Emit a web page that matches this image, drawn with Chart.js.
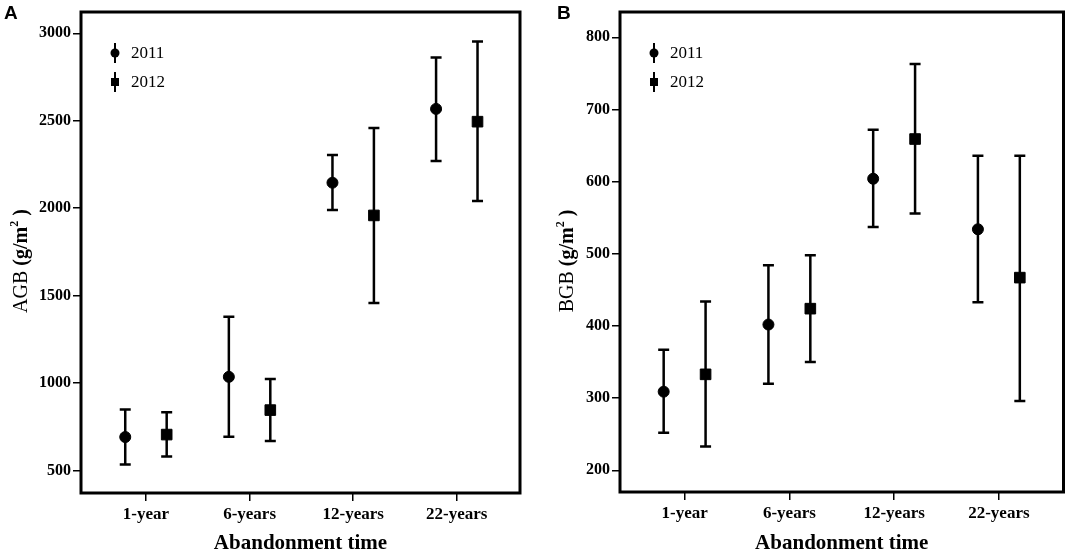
<!DOCTYPE html>
<html>
<head>
<meta charset="utf-8">
<script src="https://cdn.jsdelivr.net/npm/chart.js@4"></script>
<style>
  html, body { margin: 0; padding: 0; background: #fff; }
  #wrap { position: relative; width: 1072px; height: 560px; }
  .panel { position: absolute; top: 0; width: 536px; height: 560px; }
</style>
</head>
<body>
<div id="wrap">
  <div class="panel" style="left:0"><canvas id="chartA"></canvas></div>
  <div class="panel" style="left:536px"><canvas id="chartB"></canvas></div>
</div>
<script>
// categories on the x axis
const categories = ['1-year', '6-years', '12-years', '22-years'];
const years = ['2011', '2012'];

// panel A: AGB (g/m2), mean and error bar ends
const agb2011 = [692, 1036, 2146, 2568];
const agb2011Low = [535, 694, 1990, 2270];
const agb2011High = [850, 1380, 2305, 2862];
const agb2012 = [706, 846, 1959, 2495];
const agb2012Low = [581, 669, 1458, 2042];
const agb2012High = [834, 1024, 2459, 2954];
const agbTicks = [500, 1000, 1500, 2000, 2500, 3000];

// panel B: BGB (g/m2)
const bgb2011 = [309, 402, 604, 534];
const bgb2011Low = [252, 320, 537, 433];
const bgb2011High = [367, 484, 672, 636];
const bgb2012 = [333, 424, 659, 467];
const bgb2012Low = [233, 350, 556, 296];
const bgb2012High = [434, 498, 763, 636];
const bgbTicks = [200, 300, 400, 500, 600, 700, 800];

const serif = 'Liberation Serif';
const shift = 0.2; // half distance between the two years inside a group

function points(values, side) {
  return values.map((v, i) => ({ x: i + 1 + side * shift, y: v }));
}

// whiskers with caps, drawn under the markers
const errorBars = {
  id: 'errorBars',
  beforeDatasetsDraw(chart) {
    const ctx = chart.ctx;
    const y = chart.scales.y;
    chart.data.datasets.forEach((ds, i) => {
      chart.getDatasetMeta(i).data.forEach((pt, j) => {
        const top = y.getPixelForValue(ds.highs[j]);
        const bot = y.getPixelForValue(ds.lows[j]);
        ctx.save();
        ctx.strokeStyle = '#000';
        ctx.lineWidth = 2.5;
        ctx.beginPath();
        ctx.moveTo(pt.x, top); ctx.lineTo(pt.x, bot);
        ctx.moveTo(pt.x - 5.5, top); ctx.lineTo(pt.x + 5.5, top);
        ctx.moveTo(pt.x - 5.5, bot); ctx.lineTo(pt.x + 5.5, bot);
        ctx.stroke();
        ctx.restore();
      });
    });
  }
};

// frame, panel letter, y title and the little legend
const decorations = {
  id: 'decorations',
  afterDraw(chart) {
    const ctx = chart.ctx;
    const a = chart.chartArea;
    const o = chart.options.plugins.decorations;
    ctx.save();
    ctx.strokeStyle = '#000';
    ctx.lineWidth = 3;
    ctx.strokeRect(a.left, a.top, a.right - a.left, a.bottom - a.top);

    // panel letter
    ctx.fillStyle = '#000';
    ctx.font = 'bold 19px "Liberation Sans"';
    ctx.textBaseline = 'alphabetic';
    ctx.textAlign = 'left';
    ctx.fillText(o.letter, o.letterX, 19);

    // y axis title: plain name, bold unit
    ctx.save();
    ctx.translate(o.titleX, 261);
    ctx.rotate(-Math.PI / 2);
    ctx.textBaseline = 'middle';
    const parts = [
      { t: o.name + ' ', f: '20px ' + serif, dy: 0 },
      { t: '(g/m', f: 'bold 20px ' + serif, dy: 0 },
      { t: '2', f: 'bold 12px ' + serif, dy: -7 },
      { t: ' )', f: 'bold 20px ' + serif, dy: 0 }
    ];
    let total = 0;
    parts.forEach(p => { ctx.font = p.f; p.w = ctx.measureText(p.t).width; total += p.w; });
    let x = -total / 2;
    parts.forEach(p => { ctx.font = p.f; ctx.fillText(p.t, x, p.dy); x += p.w; });
    ctx.restore();

    // legend
    const lx = a.left + 34;
    chart.data.datasets.forEach((ds, i) => {
      const ly = a.top + 41 + i * 29;
      ctx.lineWidth = 2;
      ctx.beginPath();
      ctx.moveTo(lx, ly - 10); ctx.lineTo(lx, ly + 10);
      ctx.stroke();
      ctx.beginPath();
      if (ds.pointStyle === 'circle') {
        ctx.arc(lx, ly, 4.5, 0, Math.PI * 2);
      } else {
        ctx.rect(lx - 4, ly - 4, 8, 8);
      }
      ctx.fill();
      ctx.font = '17px ' + serif;
      ctx.textBaseline = 'middle';
      ctx.fillText(ds.label, lx + 16, ly + 1);
    });
    ctx.restore();
  }
};

function makeChart(id, p) {
  new Chart(document.getElementById(id), {
    type: 'scatter',
    data: {
      datasets: [
        {
          label: years[0],
          data: points(p.mean1, -1),
          lows: p.low1, highs: p.high1,
          pointStyle: 'circle', pointRadius: 5.5,
          backgroundColor: '#000', borderColor: '#000'
        },
        {
          label: years[1],
          data: points(p.mean2, 1),
          lows: p.low2, highs: p.high2,
          pointStyle: 'rect', pointRadius: 7.5,
          backgroundColor: '#000', borderColor: '#000'
        }
      ]
    },
    options: {
      responsive: true,
      maintainAspectRatio: false,
      animation: false,
      layout: { padding: { top: 12, right: p.padRight, left: 0, bottom: 0 } },
      scales: {
        x: {
          type: 'linear',
          min: p.xMin, max: p.xMax,
          afterBuildTicks: s => { s.ticks = categories.map((c, i) => ({ value: i + 1 })); },
          afterFit: s => { s.height = p.xHeight; },
          ticks: {
            callback: v => categories[Math.round(v) - 1],
            font: { family: serif, size: 17, weight: 'bold' },
            color: '#000', padding: 3, maxRotation: 0, autoSkip: false
          },
          grid: { drawOnChartArea: false, drawTicks: true, tickLength: 8, color: '#000', lineWidth: 1.5 },
          border: { display: false },
          title: {
            display: true, text: 'Abandonment time', color: '#000',
            font: { family: serif, size: 21, weight: 'bold' },
            padding: { top: 0, bottom: 4 }
          }
        },
        y: {
          min: p.yMin, max: p.yMax,
          afterBuildTicks: s => { s.ticks = p.ticks.map(v => ({ value: v })); },
          afterFit: s => { s.width = p.yWidth; },
          ticks: {
            callback: v => String(v),
            font: { family: serif, size: 16, weight: 'bold' },
            color: '#000', padding: 2
          },
          grid: { drawOnChartArea: false, drawTicks: true, tickLength: 8, color: '#000', lineWidth: 1.5 },
          border: { display: false }
        }
      },
      plugins: {
        legend: { display: false },
        tooltip: { enabled: false },
        decorations: { letter: p.letter, letterX: p.letterX, name: p.name, titleX: p.titleX }
      }
    },
    plugins: [errorBars, decorations]
  });
}

makeChart('chartA', {
  letter: 'A', letterX: 4, name: 'AGB', titleX: 22,
  mean1: agb2011, low1: agb2011Low, high1: agb2011High,
  mean2: agb2012, low2: agb2012Low, high2: agb2012High,
  ticks: agbTicks, yMin: 372, yMax: 3122,
  xMin: 0.373, xMax: 4.61,
  yWidth: 81, xHeight: 67, padRight: 16
});

makeChart('chartB', {
  letter: 'B', letterX: 21, name: 'BGB', titleX: 32,
  mean1: bgb2011, low1: bgb2011Low, high1: bgb2011High,
  mean2: bgb2012, low2: bgb2012Low, high2: bgb2012High,
  ticks: bgbTicks, yMin: 170, yMax: 835,
  xMin: 0.383, xMax: 4.617,
  yWidth: 84, xHeight: 68, padRight: 6
});
</script>
</body>
</html>
